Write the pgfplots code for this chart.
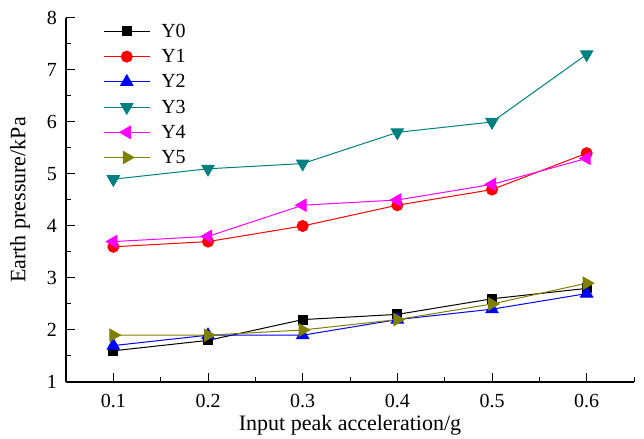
\documentclass[border=0pt]{standalone}
\usepackage{pgfplots}
\pgfplotsset{compat=1.18}
\usepackage{fontspec}
\setmainfont{Liberation Serif}
\definecolor{cteal}{RGB}{0,128,128}
\definecolor{colive}{RGB}{128,128,0}
\definecolor{cmag}{RGB}{255,0,255}
\begin{document}
\begin{tikzpicture}
\begin{axis}[
  scale only axis,
  width=568pt, height=364pt,
  xmin=0.05, xmax=0.65, ymin=1, ymax=8,
  axis lines=left,
  axis line style={-, line width=1.3pt},
  tick align=inside,
  xtick={0.1,0.2,0.3,0.4,0.5,0.6},
  minor xtick={0.15,0.25,0.35,0.45,0.55,0.65},
  ytick={1,2,3,4,5,6,7,8},
  minor ytick={1.5,2.5,3.5,4.5,5.5,6.5,7.5},
  major tick length=9pt, minor tick length=5pt,
  tick style={line width=1pt, black},
  /pgf/number format/assume math mode=true,
  ticklabel style={font=\fontsize{20}{24}\selectfont},
  xticklabel style={anchor=base, yshift=-26pt, /pgf/number format/fixed, /pgf/number format/precision=1, /pgf/number format/zerofill},
  yticklabel style={anchor=east, inner sep=0pt, xshift=-9pt},
  xlabel={Input peak acceleration/g},
  ylabel={Earth pressure/kPa},
  label style={font=\fontsize{22}{26}\selectfont},
  xlabel style={at={(axis description cs:0.5,-0.132)}, anchor=base},
  ylabel style={at={(axis description cs:-0.081,0.5)}, anchor=center},
  legend style={draw=none, fill=none, at={(0.06,0.995)}, anchor=north west,
    font=\fontsize{20}{24}\selectfont, row sep=6.5pt, /tikz/every odd column/.append style={column sep=9pt}},
  legend cell align=left,
  legend image code/.code={\draw[mark repeat=2,mark phase=2] plot coordinates {(0pt,0pt) (23pt,0pt) (46pt,0pt)};},
  every axis plot/.append style={line width=1pt},
]
\coordinate (sw) at (rel axis cs:0,0);
\coordinate (ne) at (rel axis cs:1,1);
\addplot[black, mark=square*, mark size=4.5pt] coordinates {(0.1,1.6) (0.2,1.8) (0.3,2.2) (0.4,2.3) (0.5,2.6) (0.6,2.8)};
\addlegendentry{Y0}
\addplot[red, mark=*, mark size=5.5pt] coordinates {(0.1,3.6) (0.2,3.7) (0.3,4.0) (0.4,4.4) (0.5,4.7) (0.6,5.4)};
\addlegendentry{Y1}
\addplot[blue, mark=triangle*, mark size=7pt] coordinates {(0.1,1.7) (0.2,1.9) (0.3,1.9) (0.4,2.2) (0.5,2.4) (0.6,2.7)};
\addlegendentry{Y2}
\addplot[cteal, mark=triangle*, mark size=7pt, mark options={rotate=180}] coordinates {(0.1,4.9) (0.2,5.1) (0.3,5.2) (0.4,5.8) (0.5,6.0) (0.6,7.3)};
\addlegendentry{Y3}
\addplot[cmag, mark=triangle*, mark size=7pt, mark options={rotate=90}] coordinates {(0.1,3.7) (0.2,3.8) (0.3,4.4) (0.4,4.5) (0.5,4.8) (0.6,5.3)};
\addlegendentry{Y4}
\addplot[colive, mark=triangle*, mark size=7pt, mark options={rotate=-90}] coordinates {(0.1,1.9) (0.2,1.9) (0.3,2.0) (0.4,2.2) (0.5,2.5) (0.6,2.9)};
\addlegendentry{Y5}
\end{axis}
\path (sw) +(-66pt,-55pt) (ne) +(10pt,18pt);
\end{tikzpicture}
\end{document}
